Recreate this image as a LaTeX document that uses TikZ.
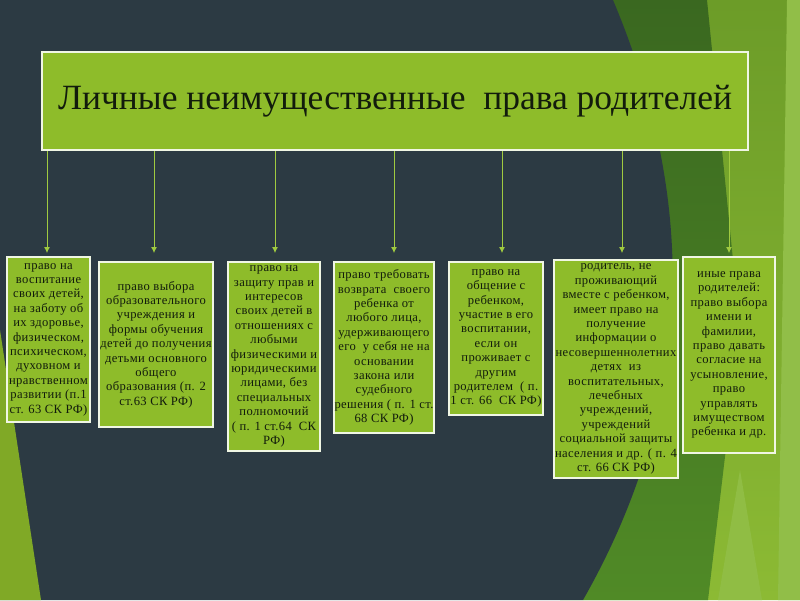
\documentclass[tikz,border=0pt]{standalone}
\usepackage{fontspec}
\setmainfont{Liberation Serif}
\newfontfamily\leaffont[LetterSpace=3]{Liberation Serif}
\usetikzlibrary{arrows.meta}

\definecolor{slate}{RGB}{44,58,67}
\definecolor{lime}{RGB}{142,188,42}
\definecolor{darkleaf}{RGB}{58,104,32}
\definecolor{grassleaf}{RGB}{80,138,38}
\definecolor{midleaf}{RGB}{108,156,40}
\definecolor{lightleaf}{RGB}{140,186,52}
\definecolor{paleleaf}{RGB}{145,190,72}
\definecolor{ink}{RGB}{18,28,12}
\definecolor{frame}{RGB}{240,246,228}
\definecolor{stem}{RGB}{160,202,64}

\begin{document}
\begin{tikzpicture}[x=1pt,y=-1pt,>=Latex,
    head/.style={draw=frame,line width=2.2pt,fill=lime,text=ink,
      minimum width=706pt,minimum height=98pt,font=\fontsize{35.5}{40}\selectfont},
    leaf/.style 2 args={draw=frame,line width=2pt,fill=lime,text=ink,
      inner xsep=0pt,inner ysep=1pt,align=center,minimum width=#1,minimum height=#2,
      font=\leaffont\fontsize{12.6}{14.4}\selectfont},
    link/.style={->,stem,line width=0.8pt,>={Latex[length=6pt,width=6pt]}}]
  \useasboundingbox (0,0) rectangle (800,600);

  % Background
  \fill[slate] (0,0) rectangle (800,600);
  \shade[top color=midleaf,bottom color=lightleaf] (600,0) -- (800,0) -- (800,600) -- (560,600) -- cycle;
  \fill[paleleaf] (787,0) -- (800,0) -- (800,600) -- (778,600) -- cycle;
  \shade[top color=darkleaf,bottom color=grassleaf] (613,0) -- (707,0) -- (740,330) -- (708,600) -- (583,600) -- cycle;
  \fill[paleleaf!80!lightleaf] (740,470) -- (762,600) -- (718,600) -- cycle;
  \fill[slate] (0,0) -- (613,0) .. controls (697,200) and (697,400) .. (583,600) -- (0,600) -- cycle;
  \fill[lime!90!black] (0,330) -- (41,600) -- (0,600) -- cycle;

  % Title
  \node[head] (title) at (395,101) {Личные неимущественные\ \ права родителей};

  % Rights
  \node[leaf={83pt}{165pt}] (b1) at (48.5,339.5) {право на\\ воспитание\\ своих детей,\\ на заботу об\\ их здоровье,\\ физическом,\\ психическом,\\ духовном и\\ нравственном\\ развитии (п.1\\ ст. 63 СК РФ)};
  \node[leaf={114pt}{165pt}] (b2) at (156,344.5) {право выбора\\ образовательного\\ учреждения и\\ формы обучения\\ детей до получения\\ детьми основного\\ общего\\ образования (п. 2\\ ст.63 СК РФ)};
  \node[leaf={92pt}{189pt}] (b3) at (274,356.5) {право на\\ защиту прав и\\ интересов\\ своих детей в\\ отношениях с\\ любыми\\ физическими и\\ юридическими\\ лицами, без\\ специальных\\ полномочий\\ ( п. 1 ст.64\ \ СК\\ РФ)};
  \node[leaf={100pt}{171pt}] (b4) at (384,347.5) {право требовать\\ возврата\ \ своего\\ ребенка от\\ любого лица,\\ удерживающего\\ его\ \ у себя не на\\ основании\\ закона или\\ судебного\\ решения ( п. 1 ст.\\ 68 СК РФ)};
  \node[leaf={94pt}{153pt}] (b5) at (496,338.5) {право на\\ общение с\\ ребенком,\\ участие в его\\ воспитании,\\ если он\\ проживает с\\ другим\\ родителем\ \ ( п.\\ 1 ст. 66\ \ СК РФ)};
  \node[leaf={124pt}{218pt}] (b6) at (616,369) {родитель, не\\ проживающий\\ вместе с ребенком,\\ имеет право на\\ получение\\ информации о\\ несовершеннолетних\\ детях\ \ из\\ воспитательных,\\ лечебных\\ учреждений,\\ учреждений\\ социальной защиты\\ населения и др. ( п. 4\\ ст. 66 СК РФ)};
  \node[leaf={92pt}{196pt}] (b7) at (729,355) {иные права\\ родителей:\\ право выбора\\ имени и\\ фамилии,\\ право давать\\ согласие на\\ усыновление,\\ право\\ управлять\\ имуществом\\ ребенка и др.};

  % Arrows
  \foreach \x [count=\i] in {47,154,275,394,502,622,729} {
    \coordinate (tip\i) at (\x,253);
    \draw[link] (title.south -| tip\i) -- (tip\i);
  }
\end{tikzpicture}
\end{document}
